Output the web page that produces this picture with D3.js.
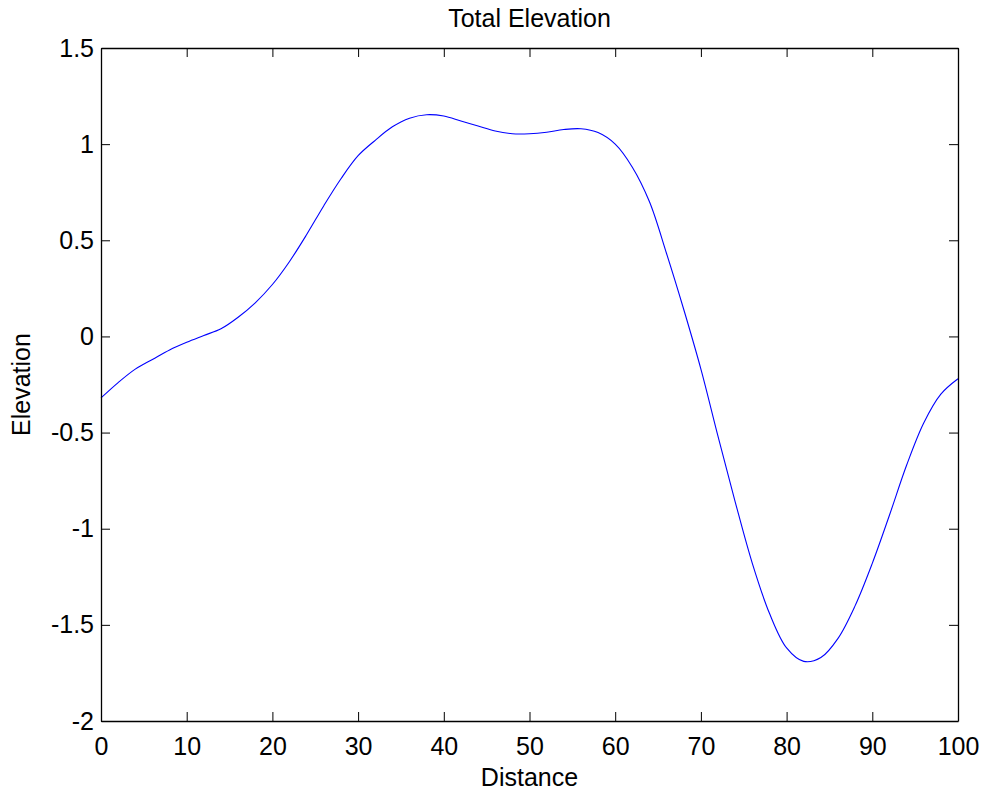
<!DOCTYPE html>
<html>
<head>
<meta charset="utf-8">
<script src="https://cdn.jsdelivr.net/npm/d3@7"></script>
<style>
  body { margin: 0; background: #fff; }
  text { font-family: "Liberation Sans", Arial, sans-serif; }
</style>
</head>
<body>
<script>
// data
var distance = [0, 2, 4, 6, 8, 10, 12, 14, 16, 18, 20, 22, 24, 26, 28, 30, 32, 34, 36, 38, 40,
                42, 44, 46, 48, 50, 52, 54, 56, 58, 60, 62, 64, 66, 68, 70, 72, 74, 76, 78, 80,
                82, 84, 86, 88, 90, 92, 94, 96, 98, 100];
var elevation = [-0.32, -0.24, -0.17, -0.12, -0.07, -0.03, 0.005, 0.04, 0.10, 0.175, 0.27,
                 0.39, 0.53, 0.68, 0.82, 0.94, 1.02, 1.09, 1.135, 1.153, 1.146,
                 1.12, 1.094, 1.068, 1.054, 1.054, 1.062, 1.076, 1.08, 1.06, 1.00,
                 0.88, 0.70, 0.43, 0.14, -0.17, -0.52, -0.86, -1.18, -1.44, -1.62,
                 -1.69, -1.67, -1.57, -1.40, -1.18, -0.93, -0.67, -0.45, -0.30, -0.22];
var xTicks = [0, 10, 20, 30, 40, 50, 60, 70, 80, 90, 100];
var yTicks = [-2, -1.5, -1, -0.5, 0, 0.5, 1, 1.5];

var W = 988, H = 793;
var margin = {top: 48, right: 30, bottom: 72, left: 101},
    width = 958 - margin.left,
    height = 721 - margin.top;

var data = distance.map(function(d, i) { return {x: d, y: elevation[i]}; });

var x = d3.scaleLinear().domain([0, 100]).range([0, width]);
var y = d3.scaleLinear().domain([-2, 1.5]).range([height, 0]);

var svg = d3.select("body").append("svg")
    .attr("width", W)
    .attr("height", H);

svg.append("rect").attr("width", W).attr("height", H).attr("fill", "#fff");

var g = svg.append("g")
    .attr("transform", "translate(" + margin.left + "," + margin.top + ")");

var fs = "25px";
var fmt = function(d) { return String(d); };   // plain hyphen minus, no trailing zeros

//the line
var line = d3.line()
    .x(function(d) { return x(d.x); })
    .y(function(d) { return y(d.y); })
    .curve(d3.curveCatmullRom.alpha(0.5));

g.append("path")
    .datum(data)
    .attr("fill", "none")
    .attr("stroke", "#0000ff")
    .attr("stroke-width", 1.1)
    .attr("d", line);

//axes, ticks pointing inward like matlab
g.append("g")
    .attr("transform", "translate(0," + height + ")")
    .call(d3.axisBottom(x).tickValues(xTicks).tickSize(-9).tickSizeOuter(0).tickPadding(16).tickFormat(fmt));
g.append("g")
    .call(d3.axisLeft(y).tickValues(yTicks).tickSize(-9).tickSizeOuter(0).tickPadding(7).tickFormat(fmt));
g.append("g")
    .call(d3.axisTop(x).tickValues(xTicks).tickSize(-9).tickSizeOuter(0).tickFormat(""));
g.append("g")
    .attr("transform", "translate(" + width + ",0)")
    .call(d3.axisRight(y).tickValues(yTicks).tickSize(-9).tickSizeOuter(0).tickFormat(""));

g.selectAll(".domain").attr("stroke", "#000").attr("stroke-width", 1.3);
g.selectAll(".tick line").attr("stroke", "#000");
g.selectAll(".tick text")
    .attr("fill", "#000")
    .style("font-size", fs)
    .style("font-family", "'Liberation Sans', Arial, sans-serif");

//title and labels
g.append("text")
    .attr("x", width / 2)
    .attr("y", -21)
    .attr("text-anchor", "middle")
    .style("font-size", fs)
    .text("Total Elevation");

g.append("text")
    .attr("x", width / 2)
    .attr("y", height + 65)
    .attr("text-anchor", "middle")
    .style("font-size", fs)
    .text("Distance");

g.append("text")
    .attr("transform", "translate(" + (30 - margin.left) + "," + (height / 2) + ") rotate(-90)")
    .attr("text-anchor", "middle")
    .style("font-size", fs)
    .text("Elevation");
</script>
</body>
</html>
